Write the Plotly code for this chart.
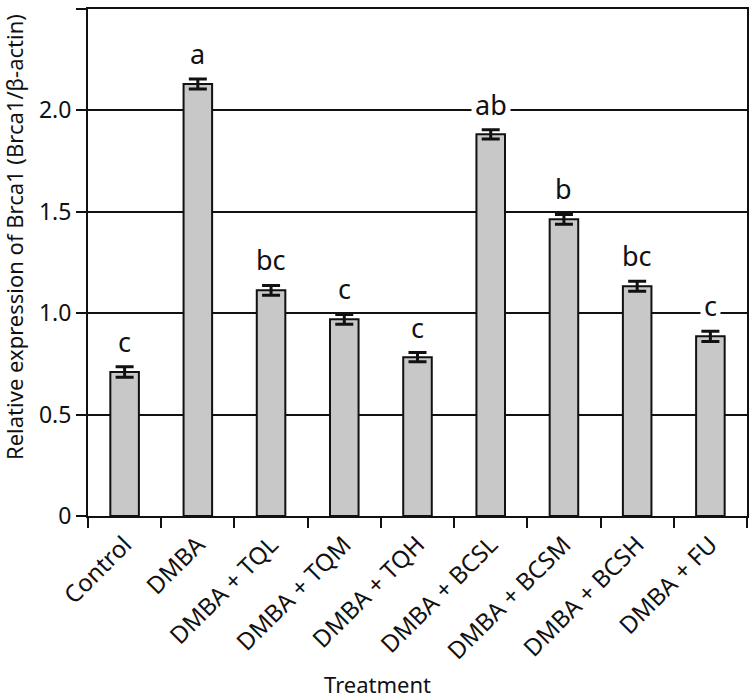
import plotly.graph_objects as go

categories = ["Control", "DMBA", "DMBA + TQL", "DMBA + TQM", "DMBA + TQH",
              "DMBA + BCSL", "DMBA + BCSM", "DMBA + BCSH", "DMBA + FU"]
values = [0.71, 2.13, 1.113, 0.970, 0.783, 1.882, 1.463, 1.133, 0.886]
errors = [0.026, 0.025, 0.024, 0.024, 0.023, 0.023, 0.024, 0.025, 0.025]
letters = ["c", "a", "bc", "c", "c", "ab", "b", "bc", "c"]
y_ticks = [0, 0.5, 1.0, 1.5, 2.0, 2.5]
y_ticktext = ["0", "0.5", "1.0", "1.5", "2.0", "2.5"]

FONT = "Noto Sans"
INK = "#111111"

fig = go.Figure()
fig.add_trace(go.Bar(
    x=categories, y=values,
    marker=dict(color="#c8c8c8", line=dict(color=INK, width=2)),
    error_y=dict(type="data", array=errors, visible=True,
                 color=INK, thickness=3, width=9),
    showlegend=False,
))

for c, v, e, t in zip(categories, values, errors, letters):
    top = v + e
    crosses = any(0.05 < g - top < 0.18 for g in y_ticks)
    fig.add_annotation(x=c, y=top, text=t, showarrow=False,
                       yanchor="bottom", yshift=3,
                       font=dict(family=FONT, size=27, color=INK),
                       bgcolor="white" if crosses else "rgba(0,0,0,0)",
                       borderpad=3)

fig.add_annotation(xref="paper", yref="paper", x=(378 - 88) / 661, y=0,
                   yshift=-168, yanchor="middle", text="Treatment",
                   showarrow=False,
                   font=dict(family=FONT, size=22, color=INK))
fig.add_annotation(xref="paper", yref="paper", x=0, xshift=-74,
                   y=(516 - 237) / 507, yanchor="middle", xanchor="center",
                   text="Relative expression of Brca1 (Brca1/β-actin)",
                   textangle=-90, showarrow=False,
                   font=dict(family=FONT, size=22, color=INK))

fig.update_layout(
    width=750, height=698,
    margin=dict(l=88, r=1, t=9, b=182),
    paper_bgcolor="white", plot_bgcolor="white",
    bargap=0.61,
    font=dict(family=FONT, color=INK),
    xaxis=dict(
        type="category", tickson="boundaries", ticks="outside", ticklen=10,
        tickwidth=1.5, tickcolor=INK,
        showline=True, linecolor=INK, linewidth=2, mirror=True,
        tickangle=-45, tickfont=dict(family=FONT, size=24, color=INK),
        ticklabelstandoff=3,
        showgrid=False,
    ),
    yaxis=dict(
        range=[0, 2.5], tickvals=y_ticks, ticktext=y_ticktext,
        ticks="outside", ticklen=10, tickwidth=1.5, tickcolor=INK,
        showline=True, linecolor=INK, linewidth=2, mirror=True,
        showgrid=True, gridcolor=INK, gridwidth=1.5,
        zeroline=False,
        tickfont=dict(family=FONT, size=23, color=INK),
    ),
)

fig.write_html("out.html",
               config={"displayModeBar": False},
               post_script="document.body.style.margin='0';"
                           "document.body.style.overflow='hidden';")
